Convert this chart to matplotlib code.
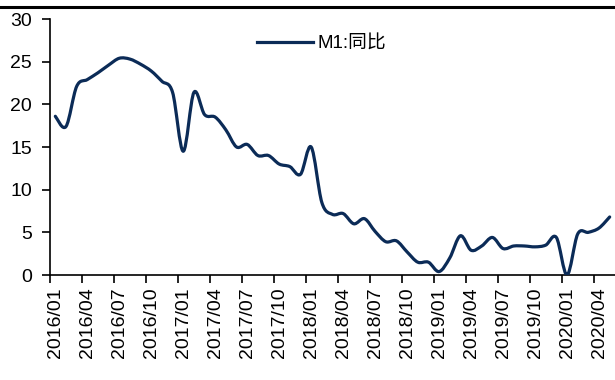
import matplotlib
matplotlib.use("Agg")
import matplotlib.pyplot as plt
from matplotlib.path import Path
from matplotlib.patches import PathPatch
from matplotlib.lines import Line2D
import numpy as np

plt.rcParams['font.family'] = ['Liberation Sans', 'Noto Sans CJK SC', 'DejaVu Sans']

# M1 money supply, year-on-year growth (%), monthly 2016/01 - 2020/05
months = [f"{y}/{m:02d}" for y in range(2016, 2021) for m in range(1, 13)][:53]
m1_yoy = [
    18.6, 17.4, 22.1, 22.9, 23.7, 24.6, 25.4, 25.3, 24.7, 23.9, 22.7, 21.4,
    14.5, 21.4, 18.8, 18.5, 17.0, 15.0, 15.3, 14.0, 14.0, 13.0, 12.7, 11.8,
    15.0, 8.5, 7.1, 7.2, 6.0, 6.6, 5.1, 3.9, 4.0, 2.7, 1.5, 1.5,
    0.4, 2.0, 4.6, 2.9, 3.4, 4.4, 3.1, 3.4, 3.4, 3.3, 3.5, 4.4,
    0.0, 4.8, 5.0, 5.5, 6.8,
]
series_name = "M1:同比"
line_color = "#0B2B57"

fig = plt.figure(figsize=(6.15, 3.80), dpi=100)
ax = fig.add_axes([50 / 615, 1 - 275 / 380, 565 / 615, 256 / 380])

# smoothed line: cubic Bezier segments through every monthly point
x = np.arange(len(m1_yoy), dtype=float)
y = np.asarray(m1_yoy, dtype=float)
pts = np.column_stack([x, y])
verts = [tuple(pts[0])]
codes = [Path.MOVETO]
n = len(pts)
for i in range(n - 1):
    p0 = pts[i - 1] if i > 0 else pts[i]
    p1 = pts[i]
    p2 = pts[i + 1]
    p3 = pts[i + 2] if i + 2 < n else pts[i + 1]
    c1 = p1 + (p2 - p0) / 6.0
    c2 = p2 - (p3 - p1) / 6.0
    verts += [tuple(c1), tuple(c2), tuple(p2)]
    codes += [Path.CURVE4] * 3
patch = PathPatch(Path(verts, codes), facecolor="none", edgecolor=line_color,
                  linewidth=2.3, capstyle="round", joinstyle="round", zorder=3)
ax.add_patch(patch)

ax.set_xlim(-0.5, len(m1_yoy) - 0.5)
ax.set_ylim(0, 30)
ax.set_yticks(range(0, 31, 5))

label_idx = list(range(0, len(months), 3))
ax.set_xticks(label_idx)
ax.set_xticklabels([months[i] for i in label_idx], rotation=90)
ax.set_xticks([i - 0.5 for i in label_idx], minor=True)
ax.tick_params(axis="x", which="major", length=0, pad=9, labelsize=14)
ax.tick_params(axis="x", which="minor", length=6, width=1.2, direction="out")
ax.tick_params(axis="y", length=6, width=1.2, direction="out", pad=7, labelsize=14)

for side in ("top", "right"):
    ax.spines[side].set_visible(False)
for side in ("left", "bottom"):
    ax.spines[side].set_linewidth(1.2)
    ax.spines[side].set_color("black")

handle = Line2D([], [], color=line_color, linewidth=2.3)
ax.legend([handle], [series_name], loc="center left",
          bbox_to_anchor=(0.366, 0.902), frameon=False, fontsize=13.5,
          handlelength=3.0, handletextpad=0.25, borderpad=0, borderaxespad=0)

# rule across the top of the figure
fig.add_artist(Line2D([0, 1], [1 - 6.5 / 380] * 2, transform=fig.transFigure,
                      color="black", linewidth=2.2))

fig.savefig("out.png", dpi=100)
